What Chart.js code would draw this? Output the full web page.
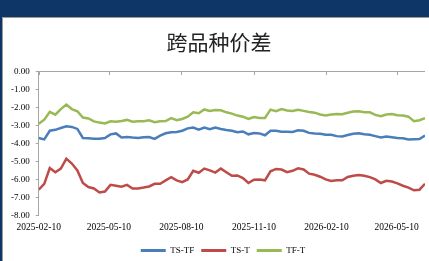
<!DOCTYPE html>
<html>
<head>
<meta charset="utf-8">
<script src="https://cdn.jsdelivr.net/npm/chart.js@4.4.1/dist/chart.umd.min.js"></script>
<style>
  html, body { margin: 0; padding: 0; width: 429px; height: 261px; overflow: hidden; background: #0e3768; }
  #panel { position: absolute; left: 2px; top: 17px; right: 0; bottom: 0; background: #ffffff; border-left: 1px solid #9a9a9a; border-top: 1px solid #9a9a9a; }
  #c { position: absolute; left: 0; top: 0; }
</style>
</head>
<body>
<div id="panel"></div>
<canvas id="c" width="429" height="261"></canvas>
<script>
const dates = [
  '2025-02-10','2025-02-17','2025-02-24','2025-03-03','2025-03-10','2025-03-17','2025-03-24','2025-03-31',
  '2025-04-07','2025-04-14','2025-04-21','2025-04-28','2025-05-05','2025-05-12','2025-05-19','2025-05-26',
  '2025-06-02','2025-06-09','2025-06-16','2025-06-23','2025-06-30','2025-07-07','2025-07-14','2025-07-21',
  '2025-07-28','2025-08-04','2025-08-11','2025-08-18','2025-08-25','2025-09-01','2025-09-08','2025-09-15',
  '2025-09-22','2025-09-29','2025-10-06','2025-10-13','2025-10-20','2025-10-27','2025-11-03','2025-11-10',
  '2025-11-17','2025-11-24','2025-12-01','2025-12-08','2025-12-15','2025-12-22','2025-12-29','2026-01-05',
  '2026-01-12','2026-01-19','2026-01-26','2026-02-02','2026-02-09','2026-02-16','2026-02-23','2026-03-02',
  '2026-03-09','2026-03-16','2026-03-23','2026-03-30','2026-04-06','2026-04-13','2026-04-20','2026-04-27',
  '2026-05-04','2026-05-11','2026-05-18','2026-05-25','2026-06-01','2026-06-08','2026-06-15'
];
const tsTf = [
  -3.70,-3.78,-3.30,-3.25,-3.15,-3.05,-3.09,-3.20,-3.70,-3.72,-3.74,-3.74,-3.70,-3.50,-3.45,-3.68,
  -3.65,-3.68,-3.70,-3.66,-3.65,-3.75,-3.57,-3.44,-3.38,-3.37,-3.30,-3.17,-3.12,-3.24,-3.12,-3.22,
  -3.12,-3.20,-3.26,-3.30,-3.38,-3.34,-3.50,-3.43,-3.45,-3.55,-3.30,-3.30,-3.36,-3.36,-3.37,-3.28,
  -3.30,-3.42,-3.46,-3.47,-3.52,-3.52,-3.60,-3.62,-3.54,-3.47,-3.44,-3.50,-3.52,-3.60,-3.68,-3.62,
  -3.66,-3.70,-3.72,-3.79,-3.77,-3.76,-3.57
];
const tsT = [
  -6.57,-6.25,-5.37,-5.60,-5.40,-4.85,-5.12,-5.50,-6.20,-6.42,-6.50,-6.72,-6.67,-6.30,-6.35,-6.40,
  -6.30,-6.50,-6.50,-6.45,-6.39,-6.24,-6.24,-6.05,-5.88,-6.05,-6.15,-6.00,-5.52,-5.63,-5.40,-5.50,
  -5.62,-5.40,-5.60,-5.80,-5.78,-5.93,-6.20,-6.02,-6.00,-6.05,-5.55,-5.42,-5.45,-5.60,-5.52,-5.38,
  -5.45,-5.68,-5.74,-5.85,-6.00,-6.09,-6.05,-6.05,-5.86,-5.80,-5.75,-5.80,-5.87,-6.00,-6.20,-6.08,
  -6.12,-6.22,-6.35,-6.45,-6.60,-6.57,-6.24
];
const tfT = [
  -2.92,-2.69,-2.25,-2.41,-2.10,-1.85,-2.10,-2.22,-2.57,-2.62,-2.78,-2.85,-2.90,-2.78,-2.80,-2.76,
  -2.70,-2.80,-2.78,-2.78,-2.72,-2.83,-2.78,-2.76,-2.60,-2.72,-2.65,-2.52,-2.28,-2.33,-2.12,-2.20,
  -2.15,-2.17,-2.28,-2.35,-2.46,-2.52,-2.65,-2.54,-2.59,-2.59,-2.13,-2.22,-2.10,-2.18,-2.20,-2.14,
  -2.20,-2.26,-2.30,-2.40,-2.45,-2.40,-2.37,-2.39,-2.30,-2.23,-2.22,-2.27,-2.28,-2.42,-2.50,-2.40,
  -2.37,-2.44,-2.46,-2.52,-2.77,-2.72,-2.60
];
const tickDates = ['2025-02-10','2025-05-10','2025-08-10','2025-11-10','2026-02-10','2026-05-10'];
const seriesNames = ['TS-TF','TS-T','TF-T'];
const seriesColors = ['#4a7ebb','#be4b48','#98b954'];
const titleText = '跨品种价差';

const DAY = 86400000;
const t0 = Date.parse(dates[0]);
const dayOf = s => Math.round((Date.parse(s) - t0) / DAY);
const tickDays = tickDates.map(dayOf);
const toPts = arr => dates.map((d, i) => ({ x: dayOf(d), y: arr[i] }));
const seriesData = [tsTf, tsT, tfT];

const axisGray = '#a6a6a6';

const topAxisPlugin = {
  id: 'topAxis',
  afterLayout(chart) {
    if (chart.legend) { chart.legend.left += 8; chart.legend.right += 8; }
    if (chart.titleBlock) { chart.titleBlock.left += 4; chart.titleBlock.right += 4; }
  },
  beforeDatasetsDraw(chart) {
    const { ctx, chartArea, scales } = chart;
    const y0 = Math.round(scales.y.getPixelForValue(0));
    ctx.save();
    ctx.strokeStyle = axisGray;
    ctx.lineWidth = 1;
    ctx.beginPath();
    ctx.moveTo(chartArea.left, y0 + 0.5);
    ctx.lineTo(chartArea.right, y0 + 0.5);
    tickDays.forEach(d => {
      const x = Math.round(scales.x.getPixelForValue(d)) + 0.5;
      ctx.moveTo(x, y0);
      ctx.lineTo(x, y0 + 4);
    });
    ctx.stroke();
    ctx.restore();
  }
};

new Chart(document.getElementById('c'), {
  type: 'line',
  data: {
    datasets: seriesNames.map((n, i) => ({
      label: n,
      data: toPts(seriesData[i]),
      borderColor: seriesColors[i],
      backgroundColor: seriesColors[i],
      borderWidth: 2.5,
      pointRadius: 0,
      tension: 0
    }))
  },
  options: {
    responsive: false,
    devicePixelRatio: 1,
    animation: false,
    layout: { padding: { top: 20, left: 5, right: 4, bottom: -4 } },
    plugins: {
      title: {
        display: true,
        text: titleText,
        color: '#222222',
        font: { family: '"Noto Sans CJK SC", sans-serif', size: 21, weight: 'normal' },
        padding: { top: 9, bottom: 17 }
      },
      legend: {
        position: 'bottom',
        labels: {
          boxWidth: 25,
          boxHeight: 3,
          padding: 7,
          color: '#000000',
          font: { family: '"Liberation Serif", serif', size: 9 },
          generateLabels(chart) {
            const items = Chart.defaults.plugins.legend.labels.generateLabels(chart);
            items.forEach(it => { it.lineWidth = 0; });
            return items;
          }
        }
      },
      tooltip: { enabled: false }
    },
    scales: {
      x: {
        type: 'linear',
        min: 0,
        max: dayOf(dates[dates.length - 1]),
        afterBuildTicks(scale) { scale.ticks = tickDays.map(v => ({ value: v })); },
        grid: { display: false, drawTicks: false },
        border: { display: false },
        ticks: {
          autoSkip: false,
          maxRotation: 0,
          padding: 7,
          color: '#000000',
          font: { family: '"Liberation Serif", serif', size: 9.5, lineHeight: 1 },
          callback(v) { const i = tickDays.indexOf(v); return i >= 0 ? tickDates[i] : ''; }
        }
      },
      y: {
        min: -8,
        max: 0,
        ticks: {
          stepSize: 1,
          padding: 6,
          color: '#000000',
          font: { family: '"Liberation Serif", serif', size: 9 },
          callback(v) { return Number(v).toFixed(2); }
        },
        grid: { drawOnChartArea: false, drawTicks: true, tickLength: 3, color: axisGray },
        border: { display: true, color: axisGray }
      }
    }
  },
  plugins: [topAxisPlugin]
});
</script>
</body>
</html>
